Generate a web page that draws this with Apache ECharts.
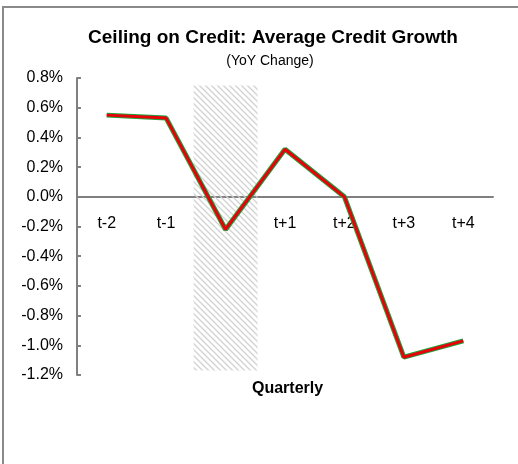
<!DOCTYPE html>
<html>
<head>
<meta charset="utf-8">
<script src="https://cdn.jsdelivr.net/npm/echarts@6/dist/echarts.min.js"></script>
<style>
  html, body { margin: 0; padding: 0; background: #fff; }
  #chart { width: 518px; height: 464px; }
</style>
</head>
<body>
<div id="chart"></div>
<script>
// ---- data ----
var quarters = ['t-2', 't-1', '', 't+1', 't+2', 't+3', 't+4'];
var creditGrowth = [0.55, 0.53, -0.22, 0.32, 0.0, -1.08, -0.97];
// shaded period (the ceiling quarter)
var bandTop = [null, null, 0.75, null, null, null, null];
var bandBottom = [null, null, -1.17, null, null, null, null];

// hatch pattern
function makeHatch() {
    var c = document.createElement('canvas');
    c.width = 6;
    c.height = 6;
    var ctx = c.getContext('2d');
    ctx.strokeStyle = '#d2d2d2';
    ctx.lineWidth = 1.3;
    ctx.beginPath();
    ctx.moveTo(-1, -1); ctx.lineTo(7, 7);
    ctx.moveTo(-1, 5); ctx.lineTo(1, 7);
    ctx.moveTo(5, -1); ctx.lineTo(7, 1);
    ctx.stroke();
    return c;
}

var dom = document.getElementById('chart');
var myChart = echarts.init(dom, null, { renderer: 'canvas' });
var hatch = { image: makeHatch(), repeat: 'repeat' };
var font = '"Liberation Sans", Arial, sans-serif';

var option = {
    animation: false,
    textStyle: { fontFamily: font },
    title: [{
        text: 'Ceiling on Credit: Average Credit Growth',
        left: 268,
        top: 23,
        textAlign: 'center',
        textStyle: { fontSize: 19, fontWeight: 'bold', color: '#000', fontFamily: font }
    }, {
        text: '(YoY Change)',
        left: 265,
        top: 49,
        textAlign: 'center',
        textStyle: { fontSize: 14, fontWeight: 'normal', color: '#000', fontFamily: font }
    }],
    graphic: [{
        type: 'rect',
        shape: { x: 3, y: 7, width: 600, height: 600 },
        style: { fill: 'none', stroke: '#8a8a8a', lineWidth: 2 },
        silent: true
    }, {
        type: 'text',
        left: 252,
        top: 381,
        style: { text: 'Quarterly', fontSize: 16, fontWeight: 'bold', fill: '#000', fontFamily: font }
    }],
    grid: { left: 77, right: 25, top: 78, bottom: 89 },
    xAxis: {
        type: 'category',
        data: quarters,
        offset: -178,
        axisLine: { onZero: false, lineStyle: { color: '#808080', width: 2 } },
        axisTick: { inside: true, length: 6, interval: 0, lineStyle: { color: '#808080', width: 2 } },
        axisLabel: { margin: 19, fontSize: 16, color: '#000', fontFamily: font, interval: 0 },
        splitLine: { show: false }
    },
    yAxis: {
        type: 'value',
        min: -1.2,
        max: 0.8,
        interval: 0.2,
        axisLine: { show: true, lineStyle: { color: '#808080', width: 2 } },
        axisTick: { show: true, inside: true, length: 4, lineStyle: { color: '#808080', width: 2 } },
        axisLabel: {
            margin: 14, fontSize: 16, color: '#000', fontFamily: font,
            formatter: function (v) { return v.toFixed(1) + '%'; }
        },
        splitLine: { show: false }
    },
    series: [{
        name: 'bandTop',
        type: 'bar',
        stack: 'band',
        barWidth: 64,
        data: bandTop,
        itemStyle: { color: hatch },
        silent: true,
        z: 1
    }, {
        name: 'bandBottom',
        type: 'bar',
        stack: 'band',
        barWidth: 64,
        data: bandBottom,
        itemStyle: { color: hatch },
        silent: true,
        z: 1
    }, {
        name: 'edge',
        type: 'line',
        data: creditGrowth,
        symbol: 'none',
        lineStyle: { color: '#1fa23a', width: 5 },
        z: 3
    }, {
        name: 'Credit growth',
        type: 'line',
        data: creditGrowth,
        symbol: 'none',
        lineStyle: { color: '#e8000b', width: 3 },
        z: 4
    }]
};

if (option && typeof option === 'object') {
    myChart.setOption(option);
}
</script>
</body>
</html>
